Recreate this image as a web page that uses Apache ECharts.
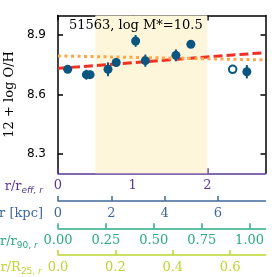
<!DOCTYPE html>
<html><head><meta charset="utf-8">
<script src="https://cdn.jsdelivr.net/npm/echarts@6/dist/echarts.min.js"></script>
<style>html,body{margin:0;padding:0;background:#fff}#c{width:277px;height:277px}</style>
</head><body><div id="c"></div>
<script>
// ---- data ----
const titleText = '51563, log M*=10.5';
const rEff = [0.13, 0.38, 0.43, 0.67, 0.78, 1.04, 1.17, 1.58, 1.78, 2.53];
const logOH = [8.727, 8.70, 8.70, 8.727, 8.762, 8.871, 8.771, 8.798, 8.854, 8.715];
const errOH = [0.006, 0.025, 0.02, 0.035, 0.023, 0.03, 0.031, 0.03, 0.006, 0.034];
const openR = [2.34];
const openOH = [8.727];
const fitRedX = [0, 2.78];
const fitRedY = [8.732, 8.812];
const fitOrangeX = [0, 2.78];
const fitOrangeY = [8.795, 8.775];
const shadeRange = [0.5, 2.0];
const yTicks = [8.3, 8.6, 8.9];
const reffTicks = [0, 1, 2];
const kpcTicks = [0, 2, 4, 6];
const r90Ticks = [0, 0.25, 0.5, 0.75, 1.0];
const r25Ticks = [0, 0.2, 0.4, 0.6];

const ext = {reff: 2.78, kpc: 7.79, r90: 1.083, r25: 0.723};
const yMin = 8.2, yMax = 9.0;

const SERIF = 'DejaVu Serif';
const SANS = 'DejaVu Sans';
const cPurple = '#5b3794', cBlue = '#41689a', cTeal = '#2aaa82', cYG = '#bcd630';
const cPt = '#0b5680';

function bottomAxis(max, ticks, color, offset, name, rich, fmt) {
  return {
    type: 'value', position: 'bottom', offset: offset, min: 0, max: max,
    gridIndex: 0,
    axisLine: {show: true, onZero: false, lineStyle: {color: color, width: 1.5}},
    axisTick: {show: true, inside: true, length: 5, customValues: ticks, lineStyle: {color: color, width: 1.5}},
    axisLabel: {show: true, customValues: ticks, margin: 6, color: color, fontFamily: SERIF, fontSize: 13, formatter: fmt},
    splitLine: {show: false},
    name: name, nameLocation: 'start', nameGap: 15,
    nameTextStyle: {color: color, fontFamily: SERIF, fontSize: 13, align: 'right', verticalAlign: 'middle', padding: [26, 0, 0, 0], rich: rich}
  };
}

const subSt = (color, italic) => ({color: color, fontFamily: SANS, fontSize: 9, fontStyle: italic ? 'italic' : 'normal', padding: [8, 0, 0, 0]});
const mainSt = (color) => ({color: color, fontFamily: SERIF, fontSize: 13});

const chart = echarts.init(document.getElementById('c'), null, {renderer: 'canvas'});
chart.setOption({
  animation: false,
  backgroundColor: '#fff',
  title: {text: titleText, left: 69, top: 19, padding: 0,
    textStyle: {fontFamily: SERIF, fontSize: 13, fontWeight: 'normal', color: '#000'}},
  grid: {left: 58, right: 11.5, top: 15.5, bottom: 103.7, containLabel: false, outerBoundsMode: 'none'},
  xAxis: [
    bottomAxis(ext.reff, reffTicks, cPurple, 0, '{m|r/r}{i|eff, r}',
      {m: mainSt(cPurple), i: subSt(cPurple, true)}, v => String(v)),
    bottomAxis(ext.kpc, kpcTicks, cBlue, 27.7, '{m|r [kpc]}',
      {m: mainSt(cBlue)}, v => String(v)),
    bottomAxis(ext.r90, r90Ticks, cTeal, 55, '{m|r/r}{s|90,}{i| r}',
      {m: mainSt(cTeal), s: subSt(cTeal, false), i: subSt(cTeal, true)}, v => v.toFixed(2)),
    bottomAxis(ext.r25, r25Ticks, cYG, 81.7, '{m|r/R}{s|25,}{i| r}',
      {m: mainSt(cYG), s: subSt(cYG, false), i: subSt(cYG, true)}, v => v.toFixed(1)),
    {
      type: 'value', position: 'top', min: 0, max: ext.reff, gridIndex: 0,
      axisLine: {show: true, onZero: false, lineStyle: {color: '#000', width: 1.5}},
      axisTick: {show: true, inside: true, length: 5, customValues: reffTicks, lineStyle: {color: '#000', width: 1.5}},
      axisLabel: {show: false}, splitLine: {show: false}
    }
  ],
  yAxis: [
    {
      type: 'value', position: 'left', min: yMin, max: yMax,
      axisLine: {show: true, onZero: false, lineStyle: {color: '#000', width: 1.5}},
      axisTick: {show: true, inside: true, length: 5, customValues: yTicks, lineStyle: {color: '#000', width: 1.5}},
      axisLabel: {show: true, customValues: yTicks, margin: 12, color: '#000', fontFamily: SANS, fontSize: 12, formatter: v => v.toFixed(1)},
      splitLine: {show: false},
      name: '12 + log O/H', nameLocation: 'middle', nameGap: 38, nameRotate: 90,
      nameTextStyle: {fontFamily: SERIF, fontSize: 13, color: '#000'}
    },
    {
      type: 'value', position: 'right', min: yMin, max: yMax,
      axisLine: {show: true, onZero: false, lineStyle: {color: '#000', width: 1.5}},
      axisTick: {show: true, inside: true, length: 5, customValues: yTicks, lineStyle: {color: '#000', width: 1.5}},
      axisLabel: {show: false}, splitLine: {show: false}
    }
  ],
  series: [
    {
      type: 'line', xAxisIndex: 0, yAxisIndex: 0, data: [], z: 0,
      markArea: {silent: true, itemStyle: {color: '#fdf6da'},
        data: [[{xAxis: shadeRange[0], yAxis: yMin}, {xAxis: shadeRange[1], yAxis: yMax}]]}
    },
    {
      type: 'line', xAxisIndex: 0, yAxisIndex: 0, symbol: 'none', z: 2,
      data: fitRedX.map((x, i) => [x, fitRedY[i]]),
      lineStyle: {color: '#ee3124', width: 3, type: [9, 4], cap: 'butt'}
    },
    {
      type: 'line', xAxisIndex: 0, yAxisIndex: 0, symbol: 'none', z: 3,
      data: fitOrangeX.map((x, i) => [x, fitOrangeY[i]]),
      lineStyle: {color: '#ffa54a', width: 3, type: [3, 3.5], cap: 'butt'}
    },
    {
      type: 'custom', xAxisIndex: 0, yAxisIndex: 0, z: 4,
      data: rEff.map((x, i) => [x, logOH[i], errOH[i]]),
      renderItem: function (params, api) {
        const x = api.value(0), y = api.value(1), e = api.value(2);
        const p1 = api.coord([x, y - e]), p2 = api.coord([x, y + e]);
        return {type: 'line', shape: {x1: p1[0], y1: p1[1], x2: p2[0], y2: p2[1]},
          style: {stroke: cPt, lineWidth: 2}};
      }
    },
    {
      type: 'scatter', xAxisIndex: 0, yAxisIndex: 0, z: 5, symbol: 'circle', symbolSize: 9,
      data: rEff.map((x, i) => [x, logOH[i]]),
      itemStyle: {color: cPt, opacity: 1}
    },
    {
      type: 'scatter', xAxisIndex: 0, yAxisIndex: 0, z: 5, symbol: 'circle', symbolSize: 7.5,
      data: openR.map((x, i) => [x, openOH[i]]),
      itemStyle: {color: '#fff', borderColor: cPt, borderWidth: 2, opacity: 1}
    }
  ]
});
</script></body></html>
